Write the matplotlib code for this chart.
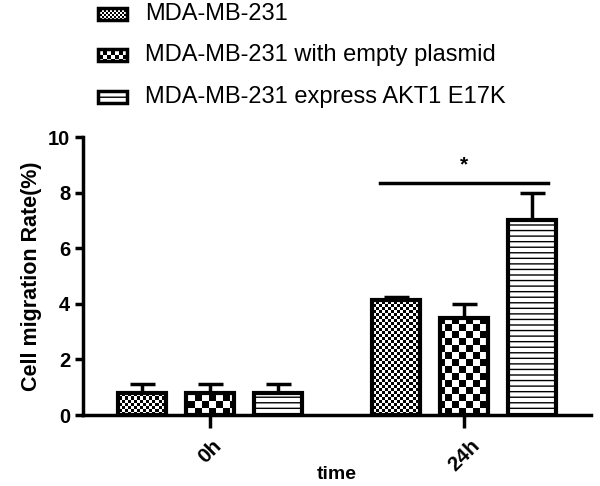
import numpy as np
import matplotlib.pyplot as plt
from matplotlib.patches import Rectangle

plt.rcParams['font.family'] = ['Liberation Sans', 'DejaVu Sans']

groups = ['0h', '24h']
series = ['MDA-MB-231', 'MDA-MB-231 with empty plasmid', 'MDA-MB-231 express AKT1 E17K']
values = [[0.8, 4.15], [0.8, 3.5], [0.8, 7.0]]
errors = [[0.3, 0.1], [0.3, 0.5], [0.3, 1.0]]
sig_y = 8.35

fig = plt.figure(figsize=(6, 4.86), dpi=100)
ax = fig.add_axes([0.138, 0.146, 0.847, 0.572])


def checker(a, patch, cell):
    # checkerboard fill clipped to a patch, cell size in pixels
    bb = a.get_position()
    w = int(bb.width * 600 / cell) + 1
    h = int(bb.height * 486 / cell) + 1
    ii, jj = np.indices((h, w))
    img = a.imshow((ii + jj) % 2, cmap='gray_r', vmin=0, vmax=1, extent=(0, 1, 0, 1),
                   transform=a.transAxes, interpolation='nearest', aspect='auto', zorder=1)
    img.set_clip_path(patch)


x = np.arange(len(groups))
off = 0.268
bw = 0.19
cells = [3, 7]
for k in range(3):
    xs = x + (k - 1) * off
    ax.errorbar(xs, values[k], yerr=[[0] * len(groups), errors[k]], fmt='none',
                ecolor='black', elinewidth=2.5, capsize=9, capthick=2.5, zorder=1)
    if k == 2:
        bars = ax.bar(xs, values[k], bw, color='white', edgecolor='black',
                      linewidth=3, hatch='---', zorder=2)
    else:
        bars = ax.bar(xs, values[k], bw, color='none', edgecolor='black',
                      linewidth=3, zorder=3)
        for b in bars:
            back = Rectangle(b.get_xy(), b.get_width(), b.get_height(), transform=ax.transData)
            checker(ax, back, cells[k])

ax.plot([0.67, 1.33], [sig_y, sig_y], color='black', lw=2.5)
ax.text(1.0, sig_y + 0.3, '*', ha='center', va='bottom', fontsize=15, fontweight='bold')

ax.set_xlim(-0.5, 1.5)
ax.set_ylim(0, 10)
ax.set_yticks(np.arange(0, 11, 2))
ax.set_xticks(x)
ax.set_xticklabels(groups, rotation=45, fontsize=15, fontweight='bold')
for t in ax.get_yticklabels():
    t.set_fontsize(14.5)
    t.set_fontweight('bold')
ax.tick_params(axis='y', direction='out', length=6, width=2.5, pad=3)
ax.tick_params(axis='x', direction='out', length=9, width=2.5, pad=6)
for s in ['top', 'right']:
    ax.spines[s].set_visible(False)
for s in ['left', 'bottom']:
    ax.spines[s].set_linewidth(2.5)
ax.set_ylabel('Cell migration Rate(%)', fontsize=15.5, fontweight='bold', labelpad=4)
ax.set_xlabel('time', fontsize=14, fontweight='bold', labelpad=-6)

# legend drawn in its own axes at the top
lax = fig.add_axes([0, 0.75, 1, 0.25])
lax.axis('off')
rows = [14, 55, 97]
for k in range(3):
    r = Rectangle((98, rows[k] - 6), 29, 12, facecolor='white', edgecolor='black',
                  linewidth=2.5, zorder=3)
    if k == 2:
        r.set_hatch('---')
        lax.add_patch(r)
    else:
        r.set_facecolor('none')
        lax.add_patch(r)
        back = Rectangle((98, rows[k] - 6), 29, 12, transform=lax.transData)
        checker(lax, back, 2 if k == 0 else 4)
    lax.text(145, rows[k], series[k], va='center', ha='left', fontsize=17)
lax.set_xlim(0, 600)
lax.set_ylim(121.5, 0)

fig.savefig('out.png', dpi=100)
